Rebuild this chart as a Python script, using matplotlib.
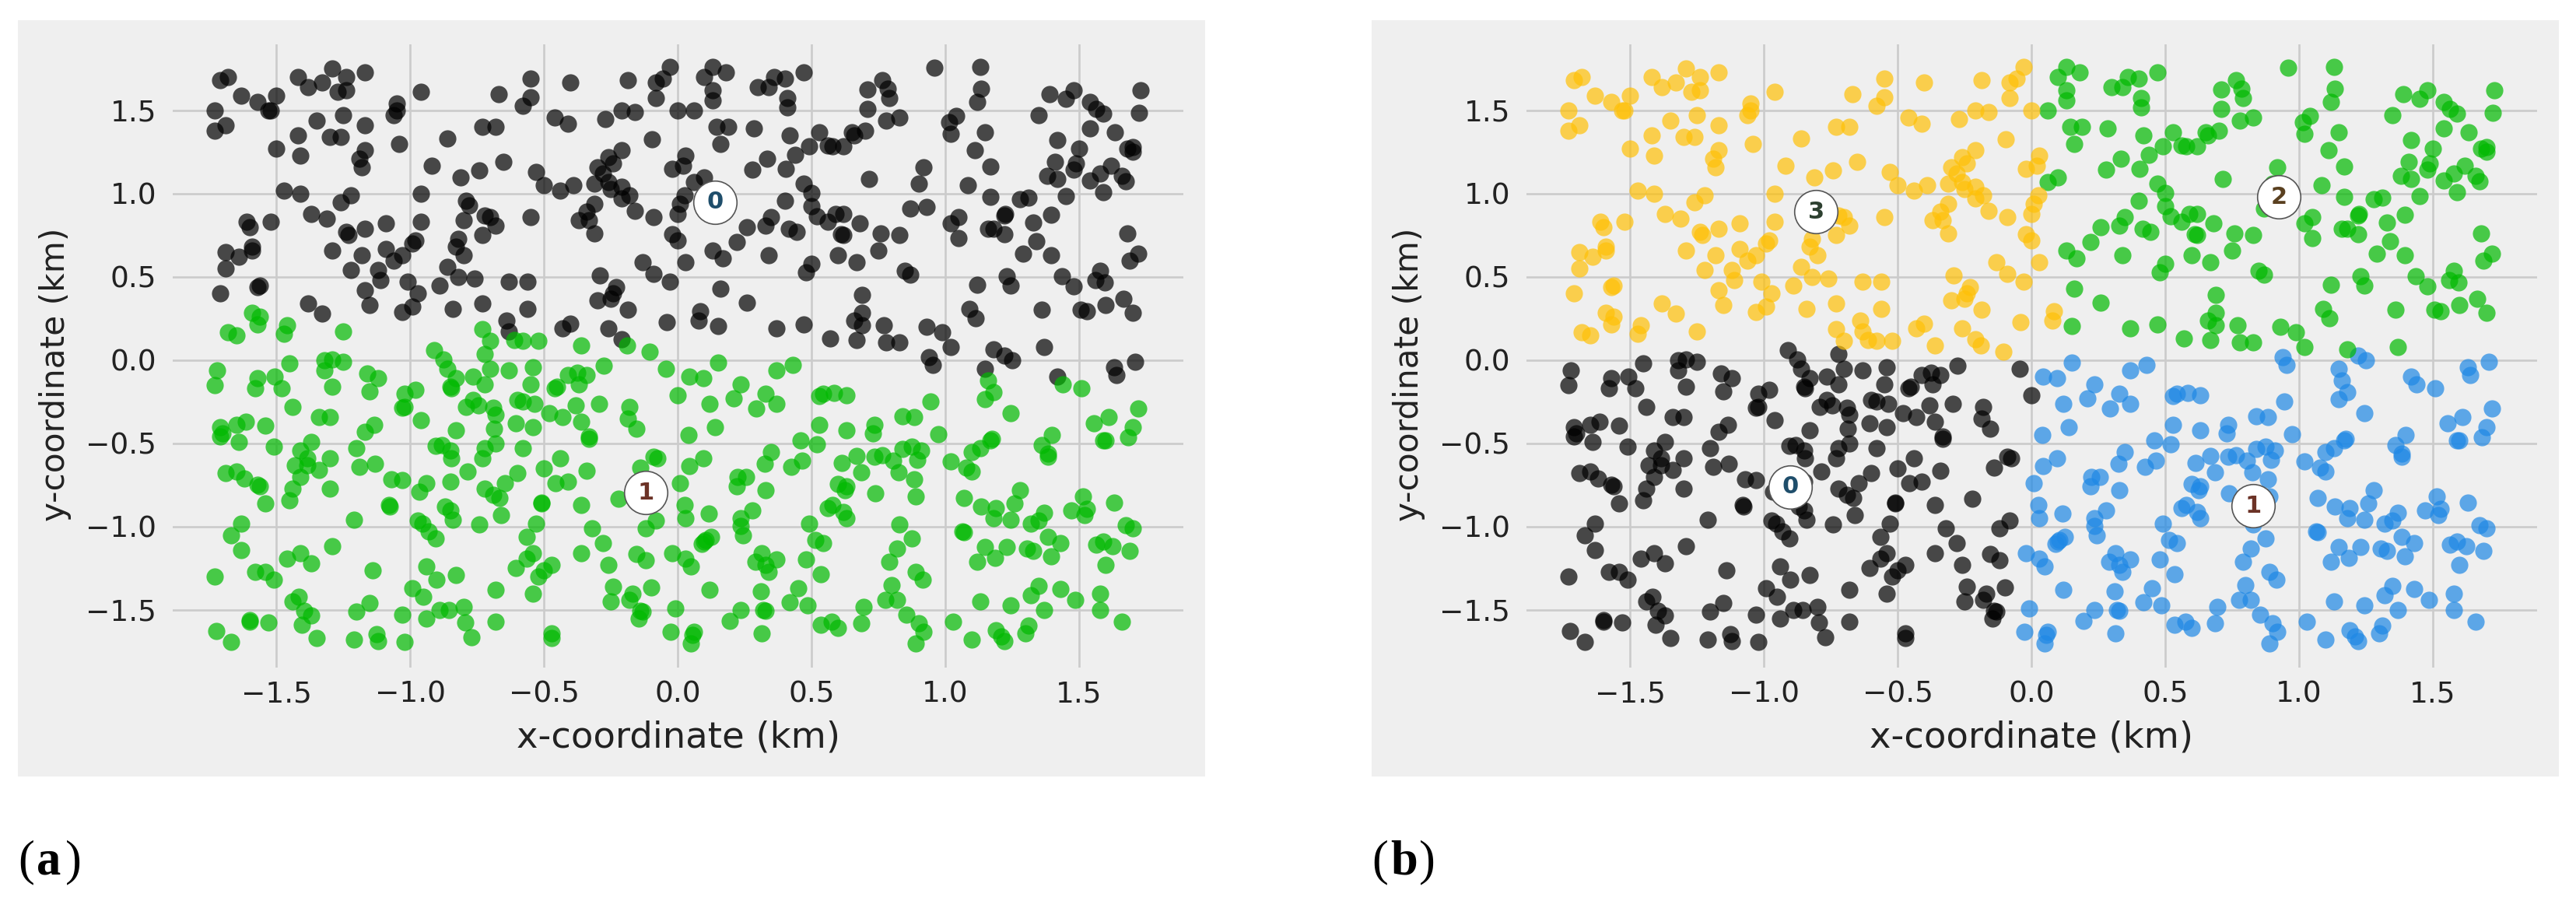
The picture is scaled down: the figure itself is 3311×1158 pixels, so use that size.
import numpy as np
import matplotlib
matplotlib.use('Agg')
import matplotlib.pyplot as plt
from matplotlib.patches import Rectangle

# Puntos (km), por cuadrante
top_left = [(-1.71,1.68),(-1.68,1.70),(-1.63,1.59),(-1.57,1.55),(-1.50,1.59),(-1.53,1.50),(-1.52,1.50),(-1.73,1.50),(-1.73,1.38),(-1.69,1.41),
    (-1.42,1.70),(-1.38,1.64),(-1.33,1.67),(-1.29,1.75),(-1.24,1.70),(-1.27,1.61),(-1.24,1.62),(-1.17,1.73),(-1.35,1.44),(-1.25,1.47),
    (-1.17,1.41),(-1.42,1.35),(-1.30,1.34),(-1.26,1.34),(-1.50,1.27),(-1.41,1.23),(-1.17,1.26),(-1.19,1.21),(-1.18,1.16),(-1.05,1.54),
    (-1.05,1.50),(-1.06,1.47),(-1.04,1.30),(-0.96,1.61),(-0.92,1.17),(-0.86,1.33),(-0.73,1.40),(-0.68,1.40),(-0.67,1.60),(-0.55,1.69),
    (-0.55,1.58),(-0.58,1.53),(-0.40,1.67),(-0.65,1.19),(-0.74,1.14),(-0.81,1.10),(-0.53,1.13),(-0.50,1.05),(-0.44,1.02),(-0.39,1.05),
    (-0.46,1.46),(-0.41,1.42),(-0.27,1.45),(-0.21,1.50),(-0.21,1.26),(-0.26,1.22),(-0.24,1.18),(-0.30,1.16),(-0.28,1.12),(-0.31,1.06),
    (-0.26,1.07),(-0.25,1.03),(-0.21,1.04),(-0.21,0.97),(-0.31,0.94),(-0.34,0.89),(-0.37,0.84),(-0.33,0.84),(-0.31,0.76),(-0.55,0.86),
    (-1.47,1.02),(-1.41,1.00),(-1.26,0.95),(-1.22,0.99),(-1.37,0.88),(-1.31,0.85),(-1.61,0.83),(-1.60,0.80),(-1.52,0.83),(-1.09,0.82),
    (-0.96,0.83),(-0.96,1.00),(-0.79,0.96),(-0.78,0.93),(-0.80,0.84),(-0.72,0.87),(-0.70,0.86),(-0.68,0.81),(-0.73,0.75),(-1.24,0.77),
    (-1.23,0.75),(-1.17,0.79),(-1.29,0.66),(-1.18,0.63),(-1.09,0.67),(-1.03,0.63),(-1.06,0.60),(-0.98,0.72),(-0.99,0.70),(-0.82,0.73),
    (-0.83,0.68),(-0.80,0.63),(-1.69,0.65),(-1.64,0.62),(-1.59,0.68),(-1.59,0.66),(-1.69,0.55),(-1.56,0.45),(-1.57,0.44),(-1.71,0.40),
    (-1.22,0.54),(-1.12,0.54),(-1.11,0.48),(-1.17,0.42),(-1.15,0.33),(-1.38,0.34),(-0.86,0.56),(-0.82,0.50),(-0.76,0.49),(-0.89,0.45),
    (-1.01,0.47),(-0.97,0.40),(-0.99,0.32),(-1.03,0.29),(-0.84,0.31),(-0.73,0.34),(-0.63,0.47),(-0.56,0.47),(-0.56,0.31),(-0.64,0.24),
    (-0.43,0.19),(-0.40,0.22),(-0.29,0.51),(-0.23,0.44),(-0.24,0.40),(-0.30,0.36),(-0.25,0.37),(-0.26,0.19),(-0.21,0.125),
    (-0.185,1.68),(-0.16,1.49),(-0.08,1.67),(-0.055,1.69),(-0.03,1.76),(-0.08,1.575),(-0.095,1.325),(-0.02,1.15),(-0.16,0.895),(-0.18,0.99),
    (-0.09,0.86),(-0.02,0.755),(-0.13,0.59),(-0.09,0.52),(-0.03,0.47),(-0.04,0.23),(-0.185,0.305),
    (-1.59,0.285),(-1.56,0.26),(-1.57,0.215),(-1.68,0.17),(-1.65,0.15),(-1.46,0.21),(-1.47,0.16),(-1.33,0.28),(-1.25,0.175),(-0.73,0.185),
    (-0.70,0.115),(-0.63,0.175),(-0.61,0.12),(-0.58,0.115),(-0.52,0.115),(-0.36,0.09),(-0.19,0.09),(-0.91,0.06),(-0.875,0.005),(-0.72,0.035),
    (-1.32,0.00),(-1.29,0.005),(-0.105,0.05)]

top_right = [(0.00,1.50),(0.06,1.50),(0.13,1.76),(0.18,1.73),(0.10,1.70),(0.13,1.62),(0.13,1.56),(0.30,1.64),(0.34,1.64),(0.36,1.70),
    (0.40,1.69),(0.47,1.73),(0.41,1.575),(0.41,1.52),(0.145,1.40),(0.19,1.40),(0.285,1.39),(0.42,1.35),(0.16,1.30),(0.03,1.23),
    (0.02,1.17),(0.10,1.10),(0.06,1.07),(0.025,0.99),(0.01,0.94),(0.00,0.88),(0.00,0.72),(0.03,0.59),(0.13,0.66),(0.17,0.61),
    (0.22,0.71),(0.26,0.80),(0.33,0.81),(0.35,0.86),(0.40,0.96),(0.28,1.145),(0.335,1.21),(0.405,1.15),(0.44,1.235),(0.49,1.285),
    (0.53,1.37),(0.56,1.29),(0.58,1.285),(0.62,1.285),(0.65,1.37),(0.66,1.35),(0.70,1.38),(0.71,1.51),(0.71,1.625),(0.765,1.68),
    (0.785,1.63),(0.79,1.575),(0.78,1.44),(0.83,1.46),(0.96,1.755),(1.13,1.76),(1.135,1.63),(1.12,1.55),(1.04,1.465),(1.015,1.43),
    (1.02,1.36),(1.15,1.37),(1.11,1.26),(1.17,1.165),(0.92,1.16),(0.90,1.06),(1.085,1.05),(0.715,1.09),(0.47,1.06),(0.50,1.005),
    (0.50,0.925),(0.52,0.865),(0.56,0.83),(0.59,0.88),(0.62,0.88),(0.68,0.82),(0.62,0.75),(0.61,0.755),(0.76,0.76),(0.83,0.75),
    (0.75,0.66),(0.60,0.63),(0.67,0.59),(0.415,0.79),(0.445,0.77),(0.34,0.63),(0.50,0.58),(0.48,0.53),(0.85,0.535),(0.87,0.515),
    (0.87,0.91),(0.93,0.92),(1.02,0.82),(1.05,0.86),(1.05,0.735),(1.17,0.98),(1.28,0.965),(1.31,0.975),(1.45,0.985),(1.395,0.875),
    (1.33,0.825),(1.34,0.715),(1.29,0.64),(1.395,0.63),(1.22,0.87),(1.225,0.88),(1.16,0.79),(1.18,0.79),(1.22,0.755),(1.35,1.47),
    (1.39,1.60),(1.45,1.57),(1.48,1.62),(1.54,1.55),(1.565,1.51),(1.59,1.48),(1.54,1.39),(1.42,1.32),(1.50,1.27),(1.635,1.37),
    (1.725,1.485),(1.73,1.62),(1.68,1.27),(1.70,1.28),(1.70,1.25),(1.41,1.19),(1.49,1.18),(1.48,1.145),(1.62,1.17),(1.58,1.12),
    (1.54,1.08),(1.38,1.105),(1.42,1.09),(1.66,1.105),(1.675,1.075),(1.59,1.01),(1.68,0.76),(1.72,0.64),(1.69,0.60),(1.435,0.505),
    (1.48,0.445),(1.58,0.535),(1.56,0.48),(1.595,0.465),(1.23,0.505),(1.245,0.45),(1.12,0.455),(1.09,0.31),(1.115,0.25),(1.36,0.305),
    (1.505,0.305),(1.53,0.295),(1.60,0.33),(1.665,0.37),(1.70,0.285),(1.37,0.08),(1.18,0.067),(1.22,0.03),(1.25,0.00),(0.94,0.02),
    (1.02,0.08),(0.99,0.17),(0.93,0.20),(0.83,0.105),(0.78,0.105),(0.77,0.21),(0.67,0.12),(0.57,0.13),(0.66,0.24),(0.69,0.21),
    (0.69,0.285),(0.69,0.39),(0.47,0.215),(0.37,0.19),(0.15,0.205),(0.08,0.24),(0.085,0.295),(0.26,0.345),(0.16,0.43)]

bottom_left = [(-1.25,-0.01),(-0.045,-0.05),(-1.72,-0.06),(-1.73,-0.15),(-1.58,-0.17),(-1.57,-0.11),(-1.505,-0.10),(-1.48,-0.17),(-1.45,-0.02),(-1.32,-0.06),
    (-1.29,-0.16),(-1.16,-0.08),(-1.12,-0.11),(-1.15,-0.185),(-1.02,-0.20),(-0.98,-0.18),(-1.03,-0.285),(-1.02,-0.28),(-0.96,-0.36),(-0.86,-0.05),
    (-0.83,-0.11),(-0.85,-0.16),(-0.845,-0.17),(-0.765,-0.10),(-0.72,-0.145),(-0.70,-0.05),(-0.63,-0.06),(-0.54,-0.04),(-0.55,-0.145),(-0.46,-0.17),
    (-0.45,-0.16),(-0.41,-0.09),(-0.375,-0.075),(-0.34,-0.09),(-0.37,-0.145),(-0.275,-0.035),(-1.44,-0.28),(-1.34,-0.34),(-1.30,-0.34),(-1.615,-0.37),
    (-1.65,-0.39),(-1.71,-0.40),(-1.70,-0.44),(-1.71,-0.46),(-1.64,-0.49),(-1.54,-0.395),(-1.51,-0.52),(-1.135,-0.39),(-1.17,-0.43),(-1.20,-0.53),
    (-1.37,-0.49),(-1.41,-0.54),(-1.385,-0.59),(-1.30,-0.59),(-1.43,-0.63),(-1.385,-0.63),(-1.34,-0.66),(-1.41,-0.70),(-1.44,-0.77),(-1.45,-0.84),
    (-1.30,-0.77),(-1.19,-0.64),(-1.13,-0.62),(-1.69,-0.68),(-1.65,-0.67),(-1.62,-0.71),(-1.57,-0.75),(-1.56,-0.755),(-1.54,-0.86),(-1.07,-0.715),
    (-1.03,-0.72),(-0.94,-0.74),(-0.965,-0.79),(-1.08,-0.87),(-1.075,-0.88),(-0.905,-0.515),(-0.88,-0.51),(-0.85,-0.54),(-0.845,-0.59),(-0.83,-0.42),
    (-0.79,-0.28),(-0.765,-0.24),(-0.745,-0.27),(-0.69,-0.285),(-0.68,-0.325),(-0.685,-0.41),(-0.68,-0.50),(-0.72,-0.53),(-0.73,-0.59),(-0.785,-0.67),
    (-0.85,-0.73),(-0.72,-0.77),(-0.69,-0.81),(-0.665,-0.825),(-0.645,-0.74),(-0.60,-0.68),(-0.66,-0.93),(-0.87,-0.88),(-0.85,-0.90),(-0.84,-0.96),
    (-0.74,-0.985),(-0.60,-0.24),(-0.58,-0.25),(-0.535,-0.26),(-0.48,-0.32),(-0.43,-0.34),(-0.38,-0.27),(-0.295,-0.26),(-0.605,-0.38),(-0.54,-0.40),
    (-0.58,-0.53),(-0.36,-0.37),(-0.33,-0.46),(-0.33,-0.47),(-0.44,-0.59),(-0.50,-0.65),(-0.34,-0.665),(-0.455,-0.74),(-0.41,-0.73),(-0.51,-0.855),
    (-0.51,-0.86),(-0.36,-0.87),(-0.22,-0.83),(-0.53,-0.98),(-0.565,-1.06),(-0.32,-1.01),(-0.28,-1.10),(-0.36,-1.16),(-0.26,-1.23),(-0.54,-1.16),
    (-0.565,-1.19),(-0.605,-1.25),(-0.47,-1.23),(-0.50,-1.26),(-0.52,-1.30),(-0.54,-1.40),(-0.24,-1.36),(-0.25,-1.45),(-0.68,-1.38),(-1.63,-0.98),
    (-1.67,-1.05),(-1.63,-1.14),(-1.21,-0.96),(-0.97,-0.965),(-0.955,-0.98),(-0.93,-1.03),(-0.905,-1.07),(-1.29,-1.115),(-1.41,-1.16),(-1.46,-1.19),
    (-1.37,-1.22),(-1.73,-1.30),(-1.58,-1.27),(-1.54,-1.27),(-1.51,-1.32),(-1.14,-1.26),(-0.94,-1.24),(-0.90,-1.32),(-0.83,-1.29),(-0.99,-1.37),
    (-0.95,-1.42),(-1.415,-1.42),(-1.44,-1.45),(-1.395,-1.505),(-1.37,-1.535),(-1.405,-1.59),(-1.15,-1.46),(-1.20,-1.51),(-1.03,-1.53),(-0.94,-1.55),
    (-0.89,-1.50),(-0.855,-1.50),(-0.80,-1.48),(-0.795,-1.575),(-0.77,-1.665),(-0.68,-1.57),(-1.60,-1.56),(-1.60,-1.57),(-1.53,-1.575),(-1.725,-1.625),
    (-1.67,-1.69),(-1.35,-1.67),(-1.21,-1.68),(-1.125,-1.645),(-1.12,-1.685),(-1.02,-1.69),(-0.47,-1.64),(-0.47,-1.67),
    (-0.18,-0.28),(-0.185,-0.35),(-0.155,-0.41),(-0.075,-0.59),(-0.09,-0.58),(-0.14,-0.645),(-0.08,-0.965),(-0.12,-1.01),(-0.155,-1.165),(-0.12,-1.20),
    (-0.02,-1.16),(-0.10,-1.365),(-0.17,-1.40),(-0.18,-1.44),(-0.14,-1.505),(-0.13,-1.51),(-0.145,-1.55),(-0.01,-1.49),(-0.025,-1.63)]

bottom_right = [(0.15,-0.015),(0.43,-0.03),(0.37,-0.06),(1.16,-0.12),(1.15,-0.05),(1.42,-0.10),(1.71,-0.01),(1.63,-0.04),(1.64,-0.09),(0.955,-0.03),
    (0.045,-0.10),(0.095,-0.11),(0.00,-0.21),(0.12,-0.26),(0.235,-0.145),(0.21,-0.23),(0.33,-0.20),(0.37,-0.26),(0.295,-0.29),(0.14,-0.40),
    (0.04,-0.45),(0.53,-0.215),(0.545,-0.20),(0.585,-0.195),(0.63,-0.21),(0.53,-0.39),(0.63,-0.42),(0.735,-0.39),(0.73,-0.44),(0.84,-0.335),
    (0.885,-0.34),(0.945,-0.25),(0.975,-0.445),(1.15,-0.235),(1.18,-0.19),(1.245,-0.32),(1.555,-0.38),(1.61,-0.34),(1.72,-0.29),(1.70,-0.40),
    (1.685,-0.465),(1.59,-0.48),(1.60,-0.48),(1.40,-0.45),(1.36,-0.51),(1.385,-0.56),(1.385,-0.58),(1.17,-0.48),(1.175,-0.47),(1.13,-0.53),
    (1.10,-0.55),(1.02,-0.61),(1.08,-0.645),(1.10,-0.67),(0.46,-0.48),(0.52,-0.505),(0.35,-0.55),(0.325,-0.62),(0.465,-0.605),(0.425,-0.64),
    (0.095,-0.59),(0.045,-0.635),(0.01,-0.74),(0.615,-0.615),(0.67,-0.575),(0.735,-0.58),(0.765,-0.57),(0.805,-0.605),(0.825,-0.675),(0.84,-0.535),
    (0.875,-0.52),(0.91,-0.54),(0.895,-0.60),(0.885,-0.715),(0.89,-0.82),(0.685,-0.675),(0.60,-0.745),(0.63,-0.755),(0.625,-0.78),(0.74,-0.80),
    (0.225,-0.70),(0.255,-0.70),(0.22,-0.755),(0.33,-0.78),(0.025,-0.87),(0.03,-0.95),(0.115,-0.92),(0.28,-0.90),(0.235,-0.95),(0.235,-0.995),
    (0.245,-1.05),(0.125,-1.06),(0.105,-1.08),(0.09,-1.105),(0.10,-1.09),(0.03,-1.19),(0.05,-1.24),(0.06,-1.63),(0.055,-1.65),(0.05,-1.70),
    (0.12,-1.38),(0.235,-1.50),(0.195,-1.565),(0.31,-1.39),(0.32,-1.50),(0.33,-1.505),(0.315,-1.64),(0.315,-1.16),(0.29,-1.21),(0.37,-1.195),
    (0.33,-1.23),(0.34,-1.27),(0.48,-1.195),(0.535,-1.285),(0.49,-0.98),(0.515,-1.08),(0.545,-1.10),(0.56,-0.89),(0.58,-0.87),(0.62,-0.91),
    (0.63,-0.95),(0.83,-0.985),(0.875,-1.07),(0.82,-1.13),(0.79,-1.21),(0.89,-1.27),(0.915,-1.32),(0.80,-1.35),(0.775,-1.44),(0.82,-1.44),
    (0.695,-1.48),(0.685,-1.58),(0.855,-1.53),(0.90,-1.58),(0.92,-1.63),(0.89,-1.70),(0.535,-1.59),(0.575,-1.57),(0.60,-1.61),(0.45,-1.37),
    (0.42,-1.455),(0.485,-1.47),(1.03,-1.57),(1.10,-1.68),(1.13,-1.45),(1.065,-1.03),(1.07,-1.035),(1.07,-0.825),(1.135,-0.88),(1.19,-0.89),
    (1.18,-0.95),(1.245,-0.96),(1.26,-0.86),(1.28,-0.78),(1.32,-0.98),(1.35,-0.965),(1.37,-0.915),(1.47,-0.90),(1.515,-0.82),(1.53,-0.895),
    (1.52,-0.93),(1.63,-0.855),(1.675,-0.99),(1.70,-1.01),(1.385,-1.06),(1.43,-1.10),(1.23,-1.12),(1.15,-1.12),(1.185,-1.185),(1.12,-1.21),
    (1.305,-1.13),(1.33,-1.145),(1.395,-1.18),(1.565,-1.11),(1.59,-1.09),(1.625,-1.115),(1.69,-1.145),(1.60,-1.23),(1.35,-1.355),(1.32,-1.41),
    (1.43,-1.375),(1.485,-1.44),(1.58,-1.40),(1.58,-1.50),(1.37,-1.50),(1.245,-1.47),(1.66,-1.57),(1.31,-1.595),(1.30,-1.64),(1.19,-1.62),
    (1.21,-1.66),(1.22,-1.685),(1.44,-0.145),(1.51,-0.17)]

# Centros de cada grupo
centers_a = [(0.14, 0.95), (-0.12, -0.795)]
centers_b = [(-0.90, -0.76), (0.83, -0.875), (0.925, 0.98), (-0.805, 0.89)]

colors_a = ['#000000', '#00b900']
colors_b = ['#000000', '#1e88e5', '#00b900', '#ffc107']
label_colors = ['#1f4e6b', '#6b3226', '#5a4020', '#2d4030']
xticks = [-1.5, -1.0, -0.5, 0.0, 0.5, 1.0, 1.5]
yticks = [-1.5, -1.0, -0.5, 0.0, 0.5, 1.0, 1.5]

pts = np.array(top_left + top_right + bottom_left + bottom_right)
W, H = 3312, 1158

fig = plt.figure(figsize=(W / 100, H / 100), dpi=100, facecolor='white')


def panel(offset, centers, colors, caption):
    # fondo gris del panel, detras de los ejes
    fig.add_artist(Rectangle(((23 + offset) / W, 1 - 998 / H), 1526 / W, 972 / H,
                             transform=fig.transFigure, facecolor='#efefef', edgecolor='none', zorder=-1))
    ax = fig.add_axes([(222 + offset) / W, 1 - 858 / H, 1299 / W, 801 / H])
    ax.set_facecolor('#efefef')
    for s in ax.spines.values():
        s.set_visible(False)
    ax.grid(True, color='#cbcbcb', lw=1.9)
    ax.set_axisbelow(True)
    ax.tick_params(length=0, labelsize=27, labelcolor='#222222')
    ax.tick_params(axis='x', pad=12)
    ax.tick_params(axis='y', pad=15)
    ax.set_xticks(xticks)
    ax.set_yticks(yticks)

    # cada punto va al centro mas cercano
    c = np.array(centers)
    d = ((pts[:, None, :] - c[None, :, :]) ** 2).sum(axis=2)
    labels = d.argmin(axis=1)
    for i, col in enumerate(colors):
        sel = labels == i
        ax.scatter(pts[sel, 0], pts[sel, 1], s=255, color=col, alpha=0.7, linewidths=0)
    for i, (cx, cy) in enumerate(centers):
        ax.scatter([cx], [cy], s=1600, facecolor='white', edgecolor='#555555', linewidths=1.2, zorder=5)
        ax.text(cx, cy, str(i), ha='center', va='center', fontsize=22, fontweight='bold',
                color=label_colors[i], zorder=6)

    ax.set_xlim(-1.887, 1.89)
    ax.set_ylim(-1.846, 1.897)
    ax.set_xlabel('x-coordinate (km)', fontsize=33.5, color='#222222')
    ax.set_ylabel('y-coordinate (km)', fontsize=30.4, color='#222222')
    ax.xaxis.set_label_coords(0.5, -0.084)
    ax.yaxis.set_label_coords(-0.100, 0.47)

    fig.text((23 + offset) / W, 1 - 1123 / H, '(', family='Liberation Serif', fontsize=45,
             color='black', va='baseline')
    fig.text((47 + offset) / W, 1 - 1123 / H, caption, family='Liberation Serif', fontsize=45,
             fontweight='bold', color='black', va='baseline')
    fig.text((84 + offset) / W, 1 - 1123 / H, ')', family='Liberation Serif', fontsize=45,
             color='black', va='baseline')


panel(0, centers_a, colors_a, 'a')
panel(1740, centers_b, colors_b, 'b')

plt.savefig('out.png', dpi=100)
